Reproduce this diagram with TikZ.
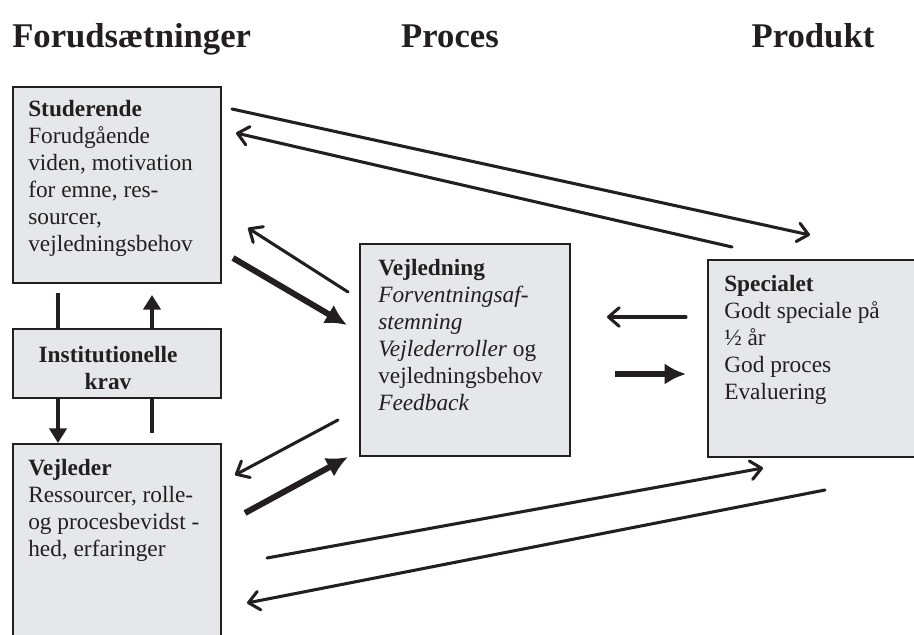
\documentclass[tikz,border=0pt]{standalone}
\usepackage{fontspec}
\setmainfont{Liberation Serif}
\usetikzlibrary{arrows.meta,positioning,calc}
\definecolor{boxgray}{HTML}{E6E7E8}
\definecolor{ink}{HTML}{231F20}

\begin{document}
\begin{tikzpicture}[x=0.75pt,y=-0.75pt,
  box/.style={draw=ink, line width=1.5pt, fill=boxgray, anchor=north west, inner sep=0pt},
  boxtext/.style={anchor=north west, align=left, inner sep=0pt, text=ink,
    font=\fontsize{17.5}{20.25}\selectfont},
  head/.style={anchor=base, inner sep=0pt, text=ink, font=\fontsize{26}{30}\selectfont\bfseries},
  thin arrow/.style={draw=ink, line width=2.3pt, line cap=round,
    -{Straight Barb[length=8pt,width=14pt,round]}},
  thick arrow/.style={draw=ink, line width=4.5pt, -{Latex[length=16pt,width=16pt]}},
  vert arrow/.style={draw=ink, line width=2.4pt, -{Triangle[length=11pt,width=13pt]}}
  ]
  \path[use as bounding box, clip] (0,0) rectangle (914,635);

  % Column headings
  \node[head, anchor=base west] (forud) at (12,48) {Forudsætninger};
  \node[head] (proces) at (450,48) {Proces};
  \node[head] (produkt) at (813,48) {Produkt};

  % Links between Studerende and Vejleder (run behind the krav box)
  \coordinate (sv-a) at (58,293);
  \coordinate (sv-b) at (58,443);
  \coordinate (vs-a) at (152,433);
  \coordinate (vs-b) at (152,295);
  \draw[vert arrow] (sv-a) -- (sv-b);
  \draw[vert arrow] (vs-a) -- (vs-b);

  % Boxes
  \node[box, minimum width=156pt, minimum height=147pt] (stud) at (12,86) {};
  \node[box, minimum width=156pt, minimum height=51.75pt] (krav) at (12,328) {};
  \node[box, minimum width=156pt, minimum height=165pt] (vejleder) at (12,443) {};
  \node[box, minimum width=157.5pt, minimum height=159pt] (vejledning) at (359,243) {};
  \node[box, minimum width=170pt, minimum height=147.75pt] (speciale) at (707,259) {};

  % Box texts (placed by the top of the first line)
  \node[boxtext] (stud-txt) at (28,100) {\textbf{Studerende}\\Forudgående\\viden, motivation\\for emne, res-\\sourcer,\\vejledningsbehov};
  \node[boxtext, anchor=north, align=center] (krav-txt) at (108,346) {\textbf{Institutionelle}\\\textbf{krav}};
  \node[boxtext] (vejleder-txt) at (28,459) {\textbf{Vejleder}\\Ressourcer, rolle-\\og procesbevidst -\\hed, erfaringer};
  \node[boxtext] (vejledning-txt) at (378,259) {\textbf{Vejledning}\\\textit{Forventningsaf-}\\\textit{stemning}\\\textit{Vejlederroller} og\\vejledningsbehov\\\textit{Feedback}};
  \node[boxtext] (speciale-txt) at (724,275) {\textbf{Specialet}\\Godt speciale på\\½ år\\God proces\\Evaluering};

  % Arrow end points
  \coordinate (stud-spec-a) at (232,109);
  \coordinate (stud-spec-b) at (810,235);
  \coordinate (spec-stud-a) at (732,247);
  \coordinate (spec-stud-b) at (236,133);
  \coordinate (vl-stud-a) at (348,292);
  \coordinate (vl-stud-b) at (248,228);
  \coordinate (stud-vl-a) at (233,258);
  \coordinate (stud-vl-b) at (347,325);
  \coordinate (vl-vej-a) at (338,420);
  \coordinate (vl-vej-b) at (235,475);
  \coordinate (vej-vl-a) at (245,513);
  \coordinate (vej-vl-b) at (348,457);
  \coordinate (vej-spec-a) at (267,558);
  \coordinate (vej-spec-b) at (763,468);
  \coordinate (spec-vej-a) at (825,490);
  \coordinate (spec-vej-b) at (247,603);
  \coordinate (spec-vl-a) at (686,317);
  \coordinate (spec-vl-b) at (607,317);
  \coordinate (vl-spec-a) at (615,374);
  \coordinate (vl-spec-b) at (686,374);

  % Connectors
  \draw[thin arrow] (stud-spec-a) -- (stud-spec-b);
  \draw[thin arrow] (spec-stud-a) -- (spec-stud-b);
  \draw[thin arrow] (vl-stud-a) -- (vl-stud-b);
  \draw[thick arrow] (stud-vl-a) -- (stud-vl-b);
  \draw[thin arrow] (vl-vej-a) -- (vl-vej-b);
  \draw[thick arrow] (vej-vl-a) -- (vej-vl-b);
  \draw[thin arrow] (vej-spec-a) -- (vej-spec-b);
  \draw[thin arrow] (spec-vej-a) -- (spec-vej-b);
  \draw[thin arrow] (spec-vl-a) -- (spec-vl-b);
  \draw[thick arrow] (vl-spec-a) -- (vl-spec-b);
\end{tikzpicture}
\end{document}
